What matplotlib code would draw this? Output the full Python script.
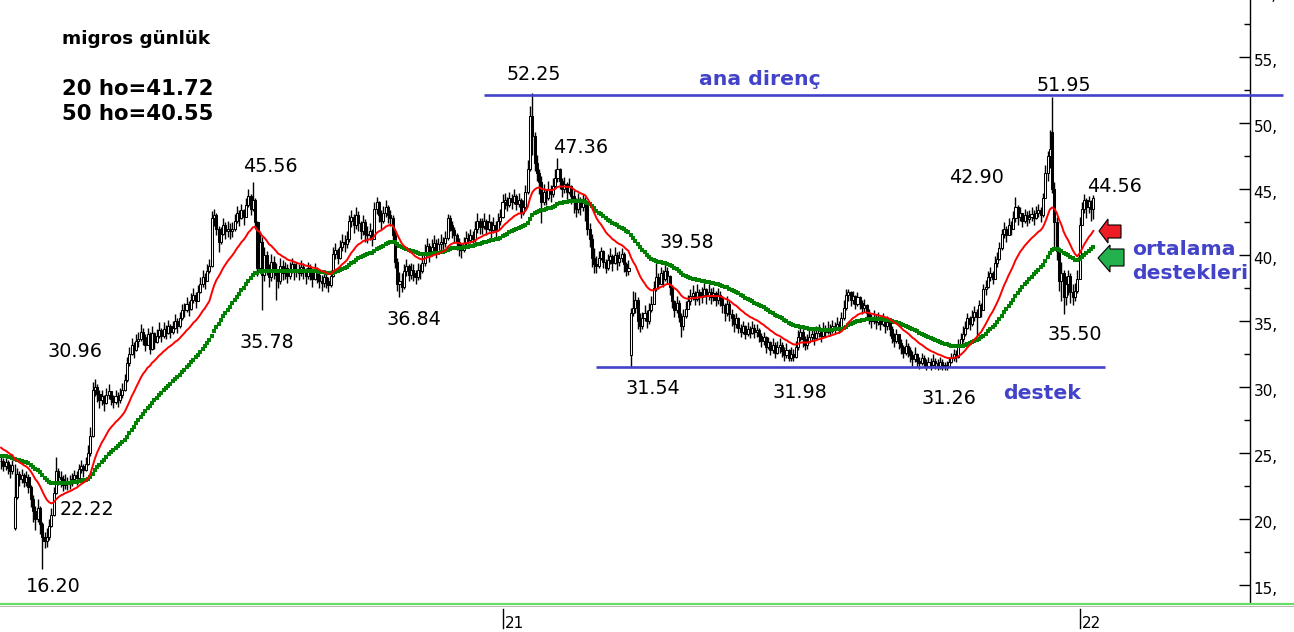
import numpy as np
import matplotlib
matplotlib.use("Agg")
import matplotlib.pyplot as plt
from matplotlib.patches import Polygon
from matplotlib import transforms
from matplotlib.ticker import MultipleLocator, FixedLocator, FuncFormatter

# ---------------- data (daily candles) ----------------
close = [
    24.4, 24.0, 24.3, 23.9, 23.6, 24.1, 21.7, 23.4, 23.0, 23.3,
    22.8, 23.2, 22.4, 21.5, 20.6, 20.0, 20.8, 19.6, 18.6, 18.3,
    18.6, 19.5, 20.3, 22.0, 23.6, 23.2, 23.0, 22.6, 22.9, 22.7,
    22.8, 23.0, 23.3, 23.1, 23.8, 24.0, 23.7, 24.2, 25.0, 26.3,
    29.8, 30.0, 29.5, 29.0, 29.3, 28.8, 29.4, 29.7, 29.1, 28.9,
    29.3, 29.0, 29.4, 29.8, 30.5, 31.8, 32.5, 33.2, 32.8, 33.5,
    33.6, 34.2, 33.8, 33.2, 34.0, 32.9, 34.1, 33.4, 33.9, 34.3,
    33.9, 34.4, 34.1, 34.6, 34.2, 34.5, 35.0, 34.6, 35.2, 35.8,
    35.8, 36.3, 35.9, 36.6, 37.0, 36.5, 37.2, 37.8, 38.3, 38.0,
    38.8, 39.2, 42.8, 43.0, 42.0, 41.0, 41.6, 42.3, 41.8, 42.0,
    41.8, 42.0, 42.6, 43.2, 42.8, 43.4, 42.9, 43.8, 44.5, 43.5,
    44.2, 42.5, 39.0, 41.0, 38.5, 40.0, 39.0, 38.3, 39.5, 38.8,
    38.5, 38.0, 39.2, 38.6, 39.0, 38.4, 38.9, 39.3, 38.7, 38.9,
    38.6, 39.1, 38.8, 38.4, 39.0, 38.7, 38.2, 38.9, 38.5, 38.0,
    37.9, 38.3, 38.0, 37.7, 38.4, 40.1, 40.4, 39.8, 40.6, 41.0,
    40.8, 41.2, 42.6, 42.9, 42.3, 43.0, 42.4, 41.8, 42.5, 41.6,
    41.5, 41.8, 41.2, 43.5, 44.0, 43.0, 42.6, 43.2, 43.6, 43.0,
    42.8, 41.5, 39.5, 37.8, 38.0, 37.6, 38.8, 39.2, 38.5, 38.9,
    38.6, 38.3, 38.9, 38.8, 39.4, 40.2, 40.7, 40.1, 40.6, 40.9,
    40.3, 40.8, 41.0, 40.9, 41.3, 42.8, 42.3, 41.9, 41.5, 41.0,
    40.6, 40.4, 40.9, 41.3, 41.1, 41.5, 41.2, 42.0, 42.6, 42.1,
    42.2, 42.6, 42.0, 42.5, 41.9, 42.3, 41.9, 42.6, 42.9, 44.0,
    44.2, 43.8, 44.3, 44.0, 44.5, 43.9, 44.2, 43.2, 43.6, 44.8,
    46.5, 50.5, 49.0, 47.0, 46.2, 45.5, 44.0, 44.8, 44.3, 45.0,
    44.6, 45.2, 45.8, 46.5, 45.6, 45.0, 45.4, 44.8, 45.2, 44.5,
    44.0, 43.5, 44.2, 43.6, 44.0, 43.8, 42.0, 41.2, 39.8, 39.3,
    39.2, 39.8, 40.3, 39.5, 39.0, 39.6, 39.9, 39.4, 40.0, 39.5,
    39.8, 40.1, 39.3, 38.8, 39.0, 35.6, 36.0, 36.6, 35.0, 34.6,
    35.2, 35.6, 35.0, 35.8, 36.3, 37.5, 38.3, 37.8, 38.6, 38.2,
    38.8, 38.4, 37.6, 36.5, 35.8, 36.4, 35.3, 34.6, 35.4, 35.9,
    36.5, 36.9, 37.1, 36.7, 37.2, 36.8, 37.0, 37.4, 36.9, 37.2,
    36.8, 37.1, 36.6, 37.0, 36.7, 36.2, 35.6, 36.3, 35.5, 35.2,
    34.8, 35.2, 34.5, 34.2, 34.6, 34.0, 34.4, 34.1, 34.5, 34.2,
    34.3, 33.9, 33.5, 33.8, 33.0, 33.4, 32.8, 33.2, 32.6, 33.0,
    33.2, 32.7, 32.4, 32.8, 32.2, 32.5, 32.3, 33.0, 33.8, 34.2,
    33.6, 33.2, 33.4, 33.8, 34.0, 33.7, 34.1, 34.3, 33.9, 34.4,
    34.2, 34.5, 34.3, 34.6, 34.4, 34.8, 34.5, 35.2, 36.0, 37.0,
    37.2, 36.6, 36.9, 36.3, 36.8, 36.4, 36.0, 36.2, 35.6, 35.3,
    35.0, 35.3, 34.9, 35.2, 34.8, 35.1, 34.6, 34.9, 34.4, 33.7,
    33.5, 34.0, 33.3, 33.0, 32.6, 33.1, 32.8, 32.4, 32.1, 32.5,
    32.0, 31.8, 32.2, 31.9, 31.6, 31.9, 31.7, 32.0, 31.8, 31.6,
    31.9, 31.7, 31.5, 31.6, 31.9, 32.2, 32.5, 32.3, 33.2, 33.6,
    34.0, 34.5, 35.2, 34.8, 35.3, 35.7, 35.3, 36.2, 35.8, 37.4,
    37.6, 38.3, 38.6, 38.2, 39.4, 39.7, 40.5, 41.6, 42.0, 41.5,
    42.3, 42.0, 42.8, 43.6, 42.9, 43.2, 42.6, 43.0, 42.7, 42.9,
    43.1, 42.8, 43.2, 43.4, 43.0, 44.3, 46.2, 47.5, 48.0, 45.0,
    42.5, 40.3, 38.0, 38.6, 36.8, 37.8, 38.4, 37.2, 36.8, 37.3,
    38.2, 42.3, 43.5, 44.2, 43.6, 44.1, 43.5, 44.3,
]

high = [
    24.9, 24.6, 24.7, 24.5, 24.2, 24.5, 24.2, 23.9, 23.6, 23.8,
    23.5, 23.6, 23.4, 22.6, 21.8, 21.0, 21.5, 21.0, 19.8, 19.0,
    19.3, 20.0, 20.8, 22.4, 24.7, 23.9, 23.6, 23.3, 23.4, 23.2,
    23.3, 23.5, 23.7, 23.6, 24.2, 24.5, 24.2, 24.7, 25.6, 27.0,
    30.4, 30.6, 30.2, 29.8, 29.8, 29.4, 29.9, 30.2, 29.7, 29.4,
    29.8, 29.6, 29.9, 30.3, 31.0, 32.3, 33.0, 33.7, 33.4, 34.0,
    34.2, 34.8, 34.5, 34.0, 34.5, 34.2, 34.6, 34.2, 34.4, 34.9,
    34.5, 34.9, 34.7, 35.1, 34.8, 35.0, 35.5, 35.2, 35.7, 36.3,
    36.4, 36.8, 36.5, 37.1, 37.5, 37.2, 37.7, 38.3, 38.9, 38.6,
    39.3, 39.7, 43.3, 43.5, 43.2, 42.2, 42.1, 42.8, 42.5, 42.6,
    42.4, 42.5, 43.1, 43.7, 43.4, 43.9, 43.5, 44.3, 45.0, 44.6,
    45.5, 44.3, 42.6, 41.6, 41.4, 40.6, 40.3, 39.3, 40.1, 39.9,
    39.4, 38.9, 39.8, 39.6, 39.5, 39.3, 39.5, 39.8, 39.4, 39.5,
    39.3, 39.6, 39.4, 39.0, 39.5, 39.3, 38.9, 39.4, 39.1, 38.6,
    38.5, 38.8, 38.6, 38.3, 38.9, 40.6, 40.9, 40.5, 41.1, 41.6,
    41.5, 41.8, 43.0, 43.4, 43.1, 43.6, 43.3, 42.6, 43.0, 42.7,
    42.2, 42.4, 42.0, 44.0, 44.4, 44.1, 43.4, 43.7, 44.2, 43.8,
    43.4, 43.0, 41.8, 39.8, 38.7, 38.6, 39.3, 39.7, 39.3, 39.4,
    39.3, 38.9, 39.4, 39.3, 40.0, 40.8, 41.3, 40.9, 41.2, 41.5,
    41.2, 41.3, 41.6, 41.4, 41.8, 43.1, 43.0, 42.6, 42.1, 41.7,
    41.3, 40.9, 41.4, 41.8, 41.7, 42.0, 41.8, 42.6, 43.2, 42.8,
    42.8, 43.2, 42.7, 43.1, 42.6, 42.9, 42.6, 43.2, 43.5, 44.6,
    44.7, 44.4, 44.8, 44.6, 45.0, 44.6, 44.7, 44.3, 44.2, 45.3,
    47.2, 51.3, 52.25, 49.3, 47.6, 46.5, 46.0, 45.4, 45.0, 45.6,
    45.3, 45.8, 46.5, 47.36, 46.6, 45.8, 45.9, 45.5, 45.8, 45.3,
    44.9, 44.3, 44.7, 44.4, 44.6, 44.4, 43.9, 42.4, 41.6, 40.5,
    39.9, 40.3, 40.6, 40.4, 39.7, 40.1, 40.5, 40.1, 40.6, 40.2,
    40.3, 40.5, 40.2, 39.5, 39.6, 36.0, 37.3, 37.2, 36.8, 35.6,
    35.7, 36.2, 35.8, 36.4, 36.9, 38.0, 39.4, 38.6, 39.1, 38.9,
    39.3, 39.1, 38.5, 37.7, 36.6, 36.9, 36.6, 35.6, 35.9, 36.5,
    37.0, 37.4, 37.7, 37.3, 37.8, 37.4, 37.6, 38.0, 37.5, 37.8,
    37.5, 37.6, 37.3, 37.5, 37.3, 36.9, 36.4, 36.9, 36.5, 35.9,
    35.5, 35.6, 35.3, 34.8, 35.0, 34.7, 34.9, 34.6, 35.0, 34.8,
    34.8, 34.5, 34.1, 34.2, 33.9, 33.8, 33.5, 33.7, 33.4, 33.5,
    33.7, 33.4, 33.0, 33.3, 32.9, 33.0, 32.9, 33.5, 34.3, 34.6,
    34.5, 33.9, 34.0, 34.3, 34.5, 34.3, 34.6, 34.8, 34.5, 34.9,
    34.7, 35.0, 34.8, 35.1, 34.9, 35.3, 35.0, 35.7, 36.6, 37.4,
    37.4, 37.3, 37.3, 37.0, 37.2, 36.9, 36.6, 36.7, 36.3, 35.9,
    35.5, 35.8, 35.5, 35.7, 35.3, 35.6, 35.2, 35.4, 35.0, 34.6,
    34.1, 34.4, 34.0, 33.6, 33.2, 33.6, 33.3, 33.0, 32.7, 33.0,
    32.6, 32.3, 32.6, 32.4, 32.1, 32.3, 32.2, 32.5, 32.2, 32.1,
    32.3, 32.1, 31.9, 32.0, 32.3, 32.6, 32.9, 32.8, 33.6, 34.1,
    34.6, 35.0, 35.6, 35.4, 35.8, 36.1, 35.9, 36.6, 36.4, 37.8,
    38.1, 38.8, 39.1, 38.8, 39.9, 40.2, 41.0, 42.0, 42.5, 42.2,
    42.8, 42.6, 43.3, 44.4, 43.8, 43.6, 43.2, 43.5, 43.3, 43.4,
    43.6, 43.4, 43.7, 43.9, 43.6, 44.7, 46.8, 47.9, 49.5, 51.95,
    45.5, 42.9, 40.6, 39.5, 38.9, 38.4, 38.9, 38.6, 37.8, 37.9,
    38.9, 42.9, 44.0, 44.6, 44.3, 44.5, 44.2, 44.56,
]

low = [
    23.8, 23.6, 23.7, 23.4, 23.1, 23.4, 19.2, 21.5, 22.5, 22.7,
    22.4, 22.5, 22.0, 20.9, 19.8, 19.2, 19.8, 18.9, 16.2, 17.8,
    17.9, 18.4, 19.4, 20.2, 21.9, 22.6, 22.4, 22.1, 22.3, 22.2,
    22.3, 22.5, 22.8, 22.6, 23.0, 23.5, 23.2, 23.6, 24.1, 24.8,
    26.2, 29.3, 28.9, 28.4, 28.6, 28.2, 28.7, 29.1, 28.6, 28.4,
    28.7, 28.5, 28.8, 29.2, 29.7, 30.4, 31.6, 32.4, 32.2, 32.7,
    33.0, 33.5, 33.2, 32.7, 33.2, 32.5, 32.8, 32.9, 33.3, 33.7,
    33.4, 33.7, 33.6, 34.0, 33.7, 34.0, 34.4, 34.1, 34.5, 35.1,
    35.3, 35.7, 35.4, 35.8, 36.4, 36.0, 36.5, 37.1, 37.6, 37.4,
    38.2, 38.6, 39.1, 42.2, 41.5, 40.2, 40.8, 41.5, 41.2, 41.4,
    41.2, 41.4, 41.8, 42.4, 42.2, 42.7, 42.3, 43.0, 43.6, 43.0,
    43.3, 42.0, 38.4, 38.6, 35.8, 38.0, 38.5, 37.6, 38.0, 38.2,
    36.6, 37.5, 37.8, 38.1, 38.2, 37.9, 38.2, 38.6, 38.1, 38.3,
    38.1, 38.4, 38.2, 37.8, 38.2, 38.1, 37.6, 38.1, 37.9, 37.5,
    37.3, 37.6, 37.5, 37.2, 37.6, 38.3, 39.7, 39.3, 39.7, 40.3,
    40.2, 40.5, 41.0, 42.1, 41.7, 42.0, 41.8, 41.2, 41.5, 41.0,
    40.9, 41.1, 40.7, 41.2, 43.1, 42.5, 42.0, 42.4, 42.9, 42.4,
    42.2, 41.0, 39.0, 37.3, 36.84, 37.2, 37.4, 38.4, 38.0, 38.2,
    38.0, 37.8, 38.1, 38.2, 38.6, 39.2, 39.9, 39.5, 39.9, 40.2,
    39.8, 40.1, 40.4, 40.3, 40.6, 41.1, 41.8, 41.3, 40.9, 40.4,
    39.9, 39.8, 40.2, 40.6, 40.6, 40.9, 40.6, 41.0, 41.7, 41.6,
    41.6, 42.0, 41.5, 41.8, 41.3, 41.7, 41.3, 41.8, 42.3, 42.8,
    43.5, 43.3, 43.6, 43.5, 43.9, 43.4, 43.6, 42.8, 43.0, 43.5,
    44.6, 46.4, 47.6, 46.4, 45.6, 44.6, 42.4, 43.8, 43.8, 44.2,
    44.0, 44.4, 45.0, 45.5, 45.0, 44.4, 44.7, 44.2, 44.6, 43.9,
    43.2, 42.9, 43.2, 43.0, 43.3, 42.6, 41.5, 40.6, 39.1, 38.6,
    38.6, 39.0, 39.6, 39.0, 38.6, 38.9, 39.3, 38.8, 39.3, 38.9,
    39.2, 39.5, 38.7, 38.4, 38.5, 31.54, 35.4, 35.6, 34.4, 34.2,
    34.4, 35.0, 34.5, 34.8, 35.7, 36.3, 37.3, 37.4, 37.9, 37.6,
    38.0, 37.8, 37.0, 36.0, 35.3, 35.6, 34.9, 33.8, 34.3, 35.2,
    35.9, 36.2, 36.6, 36.2, 36.5, 36.2, 36.4, 36.8, 36.3, 36.6,
    36.3, 36.5, 36.1, 36.3, 36.1, 35.6, 35.0, 35.4, 35.0, 34.6,
    34.2, 34.5, 34.1, 33.8, 34.0, 33.6, 33.9, 33.7, 34.0, 33.7,
    33.8, 33.4, 33.0, 33.2, 32.6, 32.9, 32.4, 32.6, 32.2, 32.5,
    32.6, 32.3, 31.98, 32.2, 31.98, 32.0, 31.98, 32.2, 32.8, 33.5,
    33.0, 32.8, 32.9, 33.3, 33.5, 33.2, 33.6, 33.8, 33.4, 33.9,
    33.8, 34.0, 33.9, 34.1, 34.0, 34.3, 34.1, 34.4, 35.1, 35.8,
    36.5, 36.1, 36.3, 35.9, 36.1, 35.9, 35.5, 35.7, 35.1, 34.8,
    34.5, 34.8, 34.4, 34.7, 34.3, 34.6, 34.1, 34.3, 33.9, 33.3,
    33.0, 33.3, 32.9, 32.5, 32.2, 32.4, 32.3, 31.9, 31.6, 31.9,
    31.5, 31.4, 31.7, 31.5, 31.3, 31.5, 31.3, 31.6, 31.4, 31.3,
    31.4, 31.3, 31.26, 31.26, 31.5, 31.8, 32.0, 31.9, 32.2, 33.0,
    33.4, 33.9, 34.4, 34.3, 34.6, 35.0, 33.8, 35.4, 35.3, 35.8,
    37.0, 37.5, 38.0, 37.8, 38.2, 39.1, 39.6, 40.4, 41.3, 41.0,
    41.6, 41.5, 42.0, 42.5, 42.3, 42.6, 42.1, 42.4, 42.2, 42.4,
    42.6, 42.3, 42.7, 42.9, 42.5, 42.9, 44.3, 45.6, 46.6, 44.7,
    40.6, 39.6, 37.3, 36.5, 35.5, 36.2, 37.0, 36.4, 36.2, 36.5,
    37.1, 38.4, 42.5, 43.2, 42.8, 43.2, 42.6, 42.7,
]

# opening prices that differ from the previous close (gaps)
open_override = {6: 19.3, 275: 32.4, 459: 49.3}

ema20_start = 25.4   # 20-day average value at the first visible bar
ema50_start = 24.8   # 50-day average value at the first visible bar

price_ticks = [15, 20, 25, 30, 35, 40, 45, 50, 55]
year_tick_bars = [219, 471]
year_labels = ["21", "22"]

resistance_level = 52.1
resistance_bars = (211, 560)
support_level = 31.5
support_bars = (260, 482)

price_labels = ["16.20", "22.22", "30.96", "45.56", "35.78", "36.84", "52.25", "47.36",
                "39.58", "31.54", "31.98", "31.26", "42.90", "51.95", "44.56", "35.50"]
label_px = [(53, 585), (87, 508), (75, 350), (270, 165), (267, 341), (414, 318), (534, 73), (581, 146),
            (687, 241), (653, 387), (800, 391), (949, 397), (976, 176), (1064, 84), (1114, 185), (1075, 333)]

title_text = "migros günlük"
ma_texts = ["20 ho=41.72", "50 ho=40.55"]

# ---------------- build ----------------
c = np.array(close, dtype=float)
h = np.array(high, dtype=float)
l = np.array(low, dtype=float)
assert len(c) == len(h) == len(l)
n = len(c)
o = np.r_[c[0], c[:-1]]
for k, v in open_override.items():
    o[k] = v
h = np.maximum(h, np.maximum(o, c))
l = np.minimum(l, np.minimum(o, c))
x = np.arange(n)


def ema(values, span, start):
    a = 2.0 / (span + 1.0)
    out = [start]
    e = start
    for v in values[1:]:
        e = e + a * (v - e)
        out.append(e)
    return np.array(out)


ema20 = ema(c, 20, ema20_start)
ema50 = ema(c, 50, ema50_start)

W, H = 1294, 632
fig = plt.figure(figsize=(W / 100, H / 100), dpi=100)
fig.patch.set_facecolor("white")

ax_bottom_px = 603
ax = fig.add_axes([0, (H - ax_bottom_px) / H, 1250 / W, ax_bottom_px / H])
ax.set_facecolor("white")

# candles
up = c >= o
ax.vlines(x, l, h, color="black", lw=1.0, zorder=2)
ax.bar(x[up], (c - o)[up], bottom=o[up], width=0.9, facecolor="white",
       edgecolor="black", linewidth=0.75, zorder=3)
ax.bar(x[~up], (o - c)[~up], bottom=c[~up], width=0.9, facecolor="black",
       edgecolor="black", linewidth=0.75, zorder=3)

# moving averages
ax.plot(x, ema50, ls="none", marker="s", ms=2.8, mew=0, color="#008000", zorder=4)
ax.plot(x, ema20, color="#ff0000", lw=1.4, zorder=5)

# support / resistance
blue = "#4343c9"
ax.plot(resistance_bars, [resistance_level] * 2, color=blue, lw=1.9, zorder=6, clip_on=False,
        solid_capstyle="butt")
ax.plot(support_bars, [support_level] * 2, color=blue, lw=1.9, zorder=6, clip_on=False,
        solid_capstyle="butt")

# axes scales
ax.set_xlim(-0.44, 545.4)
ax.set_ylim(13.636, 59.318)
for s in ["top", "left", "bottom"]:
    ax.spines[s].set_visible(False)
ax.spines["right"].set_color("black")
ax.spines["right"].set_linewidth(1.0)
ax.set_xticks([])
ax.yaxis.tick_right()
ax.yaxis.set_major_locator(FixedLocator(price_ticks))
ax.yaxis.set_minor_locator(MultipleLocator(2.5))
ax.yaxis.set_major_formatter(FuncFormatter(lambda v, p: f"{int(v)},"))
ax.tick_params(axis="y", which="major", direction="in", length=8, width=1, labelsize=11, pad=2.5,
               colors="black")
ax.tick_params(axis="y", which="minor", direction="in", length=4, width=1)
offset = transforms.ScaledTranslation(0, -3 / 100, fig.dpi_scale_trans)
for lab in ax.get_yticklabels():
    lab.set_transform(lab.get_transform() + offset)

# overlay in pixel coordinates for annotations
ov = fig.add_axes([0, 0, 1, 1], zorder=10)
ov.set_xlim(0, W)
ov.set_ylim(H, 0)
ov.axis("off")
ov.patch.set_alpha(0)

# partial "60," at top edge (cut by the frame as in the original)
ov.text(1253, -4, "60,", fontsize=11, va="center", ha="left", color="black")

# bottom axis line
ov.plot([0, W], [604, 604], color="#66dd66", lw=1.6, solid_capstyle="butt")
ov.plot([0, W], [605.6, 605.6], color="#9a9a9a", lw=0.5)

# year ticks
trans = transforms.blended_transform_factory(ax.transData, ov.transData)
for b, lab in zip(year_tick_bars, year_labels):
    ov.plot([b, b], [609, 628], color="black", lw=1.0, transform=trans, clip_on=False)
    ov.annotate(lab, xy=(b, 628), xycoords=trans, xytext=(1.5, 0), textcoords="offset points",
                fontsize=11, ha="left", va="baseline", color="black")

# price labels
for t, (px, py) in zip(price_labels, label_px):
    ov.text(px, py + 7, t, fontsize=13.8, ha="center", va="baseline", color="black")

# title block
ov.text(62, 44.5, title_text, fontsize=13.2, fontweight="bold", ha="left", va="baseline")
ov.text(62, 95, ma_texts[0], fontsize=15.3, fontweight="bold", ha="left", va="baseline")
ov.text(62, 119.5, ma_texts[1], fontsize=15.3, fontweight="bold", ha="left", va="baseline")

# blue comments
ov.text(699, 85, "ana direnç", fontsize=14.7, fontweight="bold", color=blue, ha="left", va="baseline")
ov.text(1003, 399, "destek", fontsize=14.7, fontweight="bold", color=blue, ha="left", va="baseline")
ov.text(1132, 255, "ortalama", fontsize=14.7, fontweight="bold", color=blue, ha="left", va="baseline")
ov.text(1132, 279, "destekleri", fontsize=14.7, fontweight="bold", color=blue, ha="left", va="baseline")

# arrows
red_arrow = [(1099, 231), (1108, 219), (1108, 225), (1121, 225), (1121, 238), (1108, 238), (1108, 243)]
green_arrow = [(1098, 258), (1110, 245), (1110, 249), (1124, 249), (1124, 266), (1110, 266), (1110, 272)]
ov.add_patch(Polygon(red_arrow, closed=True, facecolor="#ee1c24", edgecolor="black", lw=0.8))
ov.add_patch(Polygon(green_arrow, closed=True, facecolor="#22b14c", edgecolor="black", lw=0.8))

fig.savefig("out.png", dpi=100, facecolor="white")
